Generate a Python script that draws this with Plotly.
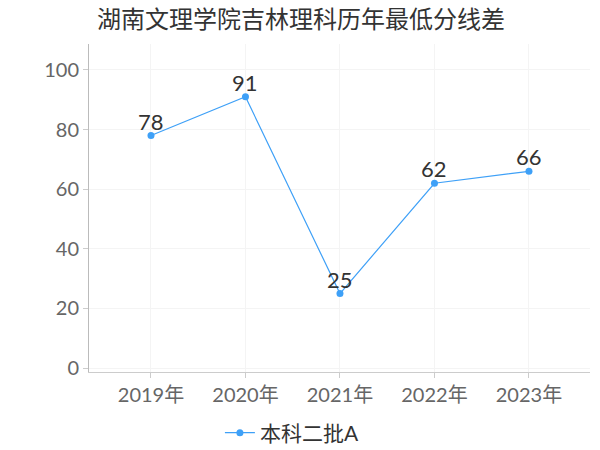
import plotly.graph_objects as go

years = ["2019年", "2020年", "2021年", "2022年", "2023年"]
values = [78, 91, 25, 62, 66]
series_name = "本科二批A"
title = "湖南文理学院吉林理科历年最低分线差"
y_ticks = [0, 20, 40, 60, 80, 100]

font = "Lato, Noto Sans CJK SC, sans-serif"
color = "#3ea0f7"

fig = go.Figure()
fig.add_trace(go.Scatter(
    x=years, y=values, mode="lines+markers",
    name=series_name,
    line=dict(color=color, width=1.2),
    marker=dict(color=color, size=7),
    cliponaxis=False,
))

for xv, yv in zip(years, values):
    fig.add_annotation(x=xv, y=yv, text=str(yv), showarrow=False,
                       yanchor="bottom", yshift=-1,
                       font=dict(size=22, color="#333333", family=font))

fig.update_layout(
    width=600, height=450,
    margin=dict(l=89, r=10, t=44, b=78, autoexpand=False),
    paper_bgcolor="white", plot_bgcolor="white",
    title=dict(text=title, x=97/600, xanchor="left", xref="container",
               y=1 - 20/450, yanchor="middle", yref="container",
               font=dict(size=24, color="#333333", family=font)),
    showlegend=True,
    legend=dict(orientation="h", x=0.405, xanchor="center", y=1 - 433/450, yanchor="middle",
                yref="container",
                font=dict(size=21, color="#333333", family=font)),
    xaxis=dict(type="category", range=[-0.656, 4.646], showgrid=True, gridcolor="#f4f4f4",
               showline=True, linecolor="#cccccc", ticks="outside", ticklen=5, tickcolor="#cccccc",
               tickfont=dict(size=20, color="#666666", family=font), zeroline=False),
    yaxis=dict(range=[-1.3, 108.7], tickvals=y_ticks, showgrid=True, gridcolor="#f4f4f4",
               showline=True, linecolor="#bbbbbb", ticks="outside", ticklen=5, tickcolor="#cccccc",
               tickfont=dict(size=20, color="#666666", family=font), zeroline=False),
)

fig.write_html("out.html", config={"displayModeBar": False},
               post_script="document.body.style.margin='0';")
